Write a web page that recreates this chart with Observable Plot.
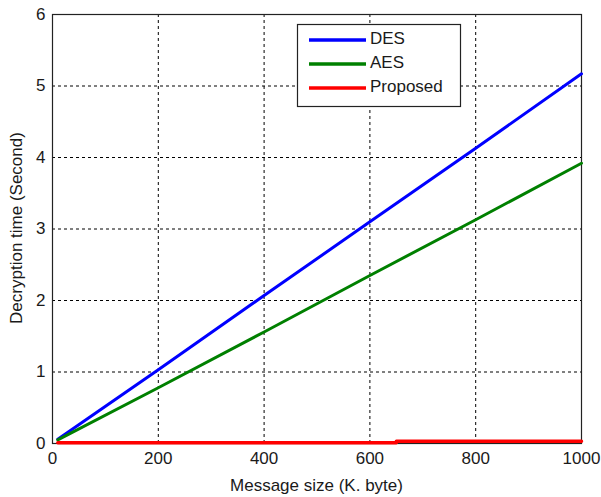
<!DOCTYPE html>
<html>
<head>
<meta charset="utf-8">
<script src="https://cdn.jsdelivr.net/npm/d3@7"></script>
<script src="https://cdn.jsdelivr.net/npm/@observablehq/plot@0.6"></script>
<style>
  body { margin: 0; background: #fff; }
  svg { font-family: "Liberation Sans", Arial, sans-serif; }
</style>
</head>
<body>
<div id="chart"></div>
<script>
const messageSize = [10, 200, 400, 600, 800, 1000];
const desTime = [0.06, 1.03, 2.07, 3.10, 4.13, 5.17];
const aesTime = [0.05, 0.78, 1.56, 2.35, 3.13, 3.92];
const proposedSize = [10, 650, 650, 1000];
const proposedTime = [0.01, 0.01, 0.03, 0.03];
const seriesNames = ["DES", "AES", "Proposed"];
const seriesColors = ["#0000ff", "#008000", "#ff0000"];
const xTicks = [0, 200, 400, 600, 800, 1000];
const yTicks = [0, 1, 2, 3, 4, 5, 6];

const des = messageSize.map((x, i) => ({x, y: desTime[i]}));
const aes = messageSize.map((x, i) => ({x, y: aesTime[i]}));
const prop = proposedSize.map((x, i) => ({x, y: proposedTime[i]}));

const textColor = "#1a1a1a";

const plot = Plot.plot({
  width: 601,
  height: 497,
  marginLeft: 52,
  marginRight: 20,
  marginTop: 14,
  marginBottom: 54,
  style: {fontSize: "17px", fontFamily: "'Liberation Sans', Arial, sans-serif", color: textColor, background: "#fff"},
  x: {domain: [0, 1000]},
  y: {domain: [0, 6]},
  marks: [
    Plot.gridX(xTicks.filter(d => d > 0 && d < 1000), {stroke: "#000", strokeOpacity: 1, strokeDasharray: "3,3", strokeWidth: 1}),
    Plot.gridY(yTicks.filter(d => d > 0 && d < 6), {stroke: "#000", strokeOpacity: 1, strokeDasharray: "3,3", strokeWidth: 1}),
    Plot.frame({stroke: "#222", strokeWidth: 1.2}),
    Plot.axisX(xTicks, {tickSize: 0, tickPadding: 8, fontSize: 17, fill: textColor, label: null, tickFormat: d => String(d)}),
    Plot.axisY(yTicks, {tickSize: 0, tickPadding: 7, fontSize: 17, fill: textColor, label: null, tickFormat: d => String(d)}),
    Plot.line(des, {x: "x", y: "y", stroke: seriesColors[0], strokeWidth: 3}),
    Plot.line(aes, {x: "x", y: "y", stroke: seriesColors[1], strokeWidth: 3}),
    Plot.line(prop, {x: "x", y: "y", stroke: seriesColors[2], strokeWidth: 3.5, curve: "linear"})
  ]
});

const svg = d3.select(plot);
// axis titles
svg.append("text")
  .attr("x", 316.5).attr("y", 487)
  .attr("text-anchor", "middle").attr("dominant-baseline", "middle")
  .attr("font-size", 17).attr("fill", textColor)
  .text("Message size (K. byte)");
svg.append("text")
  .attr("transform", "translate(18,228) rotate(-90)")
  .attr("text-anchor", "middle").attr("dominant-baseline", "middle")
  .attr("font-size", 17).attr("fill", textColor)
  .text("Decryption time (Second)");

// legend
const lg = svg.append("g");
lg.append("rect")
  .attr("x", 297.5).attr("y", 24.5).attr("width", 163).attr("height", 82)
  .attr("fill", "#fff").attr("stroke", "#222").attr("stroke-width", 1.2);
const rowsY = [40, 64, 88];
seriesNames.forEach((name, i) => {
  lg.append("line")
    .attr("x1", 309).attr("x2", 366).attr("y1", rowsY[i]).attr("y2", rowsY[i])
    .attr("stroke", seriesColors[i]).attr("stroke-width", 3.5);
  lg.append("text")
    .attr("x", 370).attr("y", rowsY[i])
    .attr("text-anchor", "start")
    .attr("dominant-baseline", "middle")
    .attr("font-size", 17).attr("fill", textColor)
    .text(name);
});

document.getElementById("chart").appendChild(plot);
</script>
</body>
</html>
